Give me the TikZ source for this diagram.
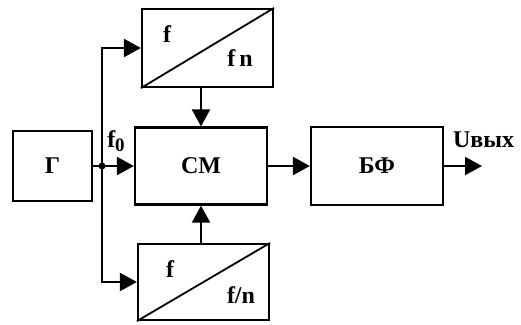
\documentclass[tikz,border=0pt]{standalone}
\usepackage{fontspec}
\setmainfont{Liberation Serif}
\usetikzlibrary{arrows.meta}

\begin{document}
\begin{tikzpicture}[x=1pt, y=-1pt, line width=2.2pt,
	font=\fontsize{24}{26}\selectfont\bfseries,
	block/.style={draw, minimum width=131pt, minimum height=78pt, inner sep=0pt},
	arr/.style={-{Triangle[length=17pt,width=18pt]}}]
	\useasboundingbox (0,0) rectangle (521,324);
	
	\node[block, minimum width=79pt, minimum height=70pt] (gen) at (52.5,166) {Г};
	\node[block] (mul) at (207.5,48) {};
	\node[block, minimum width=132pt, minimum height=77pt] (cm) at (201,166) {СМ};
	\node[block, minimum height=76pt] (div) at (203.5,282) {};
	\node[block, minimum width=132pt] (bf) at (377,166) {БФ};
	\coordinate (j) at (102,166);
	\coordinate (out) at (482,166);
	
	\draw[line width=1.8pt] (mul.south west) -- (mul.north east);
	\draw[line width=1.8pt] (div.south west) -- (div.north east);
	\node at (167,34) {f};
	\node at (240,58) {f\,n};
	\node at (170,269) {f};
	\node at (241,295) {f/n};
	
	\draw[arr] (gen.east) -- (cm.west);
	\draw[arr] (j) |- (mul.west);
	\draw[arr] (j) |- (div.west);
	\draw[arr] (cm.north |- mul.south) -- (cm.north);
	\draw[arr] (cm.south |- div.north) -- (cm.south);
	\draw[arr] (cm.east) -- (bf.west);
	\draw[arr] (bf.east) -- (out);
	\fill (j) circle (3.5pt);
	
	\node at (116,141) {f\raisebox{-0.3ex}{\fontsize{19}{20}\selectfont 0}};
	\node[anchor=base west, inner sep=0pt] at (452,147) {Uвых};
\end{tikzpicture}
\end{document}
